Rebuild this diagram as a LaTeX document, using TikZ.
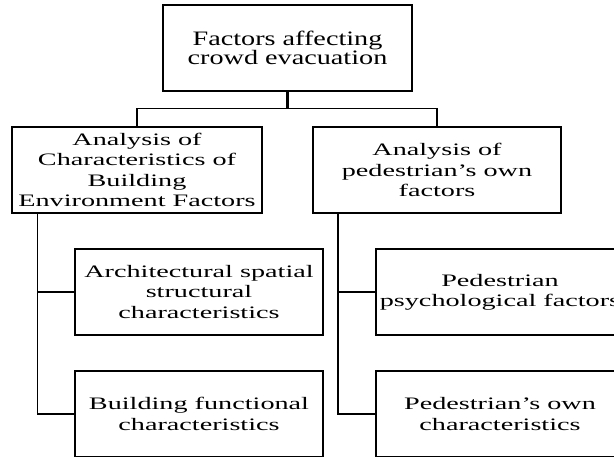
\documentclass[tikz,border=0pt]{standalone}
\usepackage{fontspec}
\setmainfont{Liberation Serif}[FakeStretch=1.611]
\newfontfamily\topfont{Liberation Serif}[FakeStretch=1.376]
\begin{document}
\begin{tikzpicture}[x=1pt,y=-1pt,
  box/.style={draw=black, line width=1.5pt, minimum width=248pt, minimum height=86pt,
    inner sep=0pt, align=center, font=\fontsize{17.5pt}{20.2pt}\selectfont},
  link/.style={draw=black, line width=1.5pt},
  stem/.style={draw=black, line width=2.6pt}]
\useasboundingbox (0,0) rectangle (614,456);
\clip (0,0) rectangle (614,456);
\node[box, minimum width=249pt, font=\topfont\fontsize{20.5pt}{19.3pt}\selectfont] (top) at (287.5,48) {Factors affecting\\crowd evacuation};
\node[box, minimum width=250pt] (L) at (137,170) {Analysis of\\Characteristics of\\Building\\Environment Factors};
\node[box] (R) at (437,170) {Analysis of\\pedestrian’s own\\factors};
\node[box] (L1) at (199,292) {Architectural spatial\\structural\\characteristics};
\node[box] (L2) at (199,414) {Building functional\\characteristics};
\node[box] (R1) at (500,292) {Pedestrian\\psychological factors};
\node[box] (R2) at (500,414) {Pedestrian’s own\\characteristics};
\coordinate (j) at (287.5,109);
\coordinate (lt) at (37.5,213);
\coordinate (rt) at (338,213);
\draw[stem] (top.south) -- (j);
\draw[link] (L.north) -- ++(0,-18) -| (R.north);
\draw[link] (lt) |- (L1.west);
\draw[link] (lt) |- (L2.west);
\draw[link] (rt) |- (R1.west);
\draw[link] (rt) |- (R2.west);
\end{tikzpicture}
\end{document}
